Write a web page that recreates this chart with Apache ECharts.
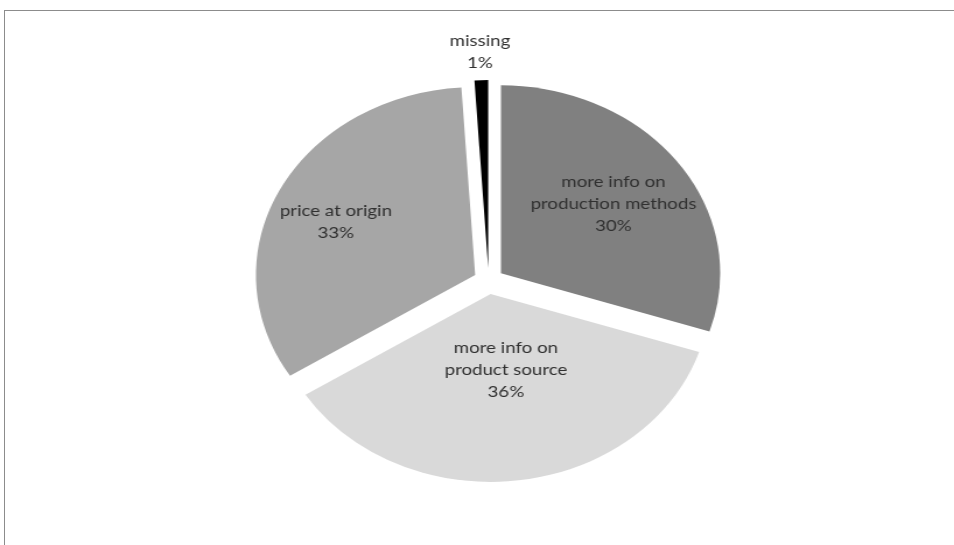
<!DOCTYPE html>
<html>
<head>
<meta charset="utf-8">
<style>
  html, body { margin: 0; padding: 0; background: #fff; overflow: hidden; }
  #frame {
    position: absolute; left: 4px; top: 10px; width: 960px; height: 540px;
    border-top: 1.5px solid #8c8c8c; border-left: 1.5px solid #8c8c8c;
  }
  /* the original picture is stretched horizontally, so the chart is too */
  #chart {
    position: absolute; left: 0; top: 0; width: 818px; height: 545px;
    transform: scaleX(1.1663); transform-origin: 0 0;
  }
</style>
<script src="https://cdn.jsdelivr.net/npm/echarts@6/dist/echarts.min.js"></script>
</head>
<body>
<div id="frame"></div>
<div id="chart"></div>
<script>
const categories = ['more info on\nproduction methods', 'more info on\nproduct source', 'price at origin', 'missing']
const shares = [30, 36, 33, 1]
const colors = ['#808080', '#d9d9d9', '#a6a6a6', '#000000']

// label nudges (chart px) to match where the original places them
const labelShift = [[18, -12], [1, -20], [-33, -9], [-4, -119]]

const chart = echarts.init(document.getElementById('chart'))
chart.setOption({
  animation: false,
  series: [
    {
      type: 'pie',
      center: [419, 281],
      radius: 188,
      startAngle: 90,
      clockwise: true,
      selectedMode: 'multiple',
      selectedOffset: 13,
      emphasis: { disabled: true },
      select: { itemStyle: { borderWidth: 0 } },
      label: {
        show: true,
        position: 'inside',
        formatter: p => p.name + '\n' + p.value + '%',
        fontFamily: 'Lato',
        fontSize: 16,
        lineHeight: 22,
        color: '#303030'
      },
      labelLine: { show: false },
      labelLayout: p => ({ dx: labelShift[p.dataIndex][0], dy: labelShift[p.dataIndex][1] }),
      data: categories.map((name, i) => ({
        name: name,
        value: shares[i],
        selected: true,
        itemStyle: { color: colors[i] }
      }))
    }
  ]
})
</script>
</body>
</html>
